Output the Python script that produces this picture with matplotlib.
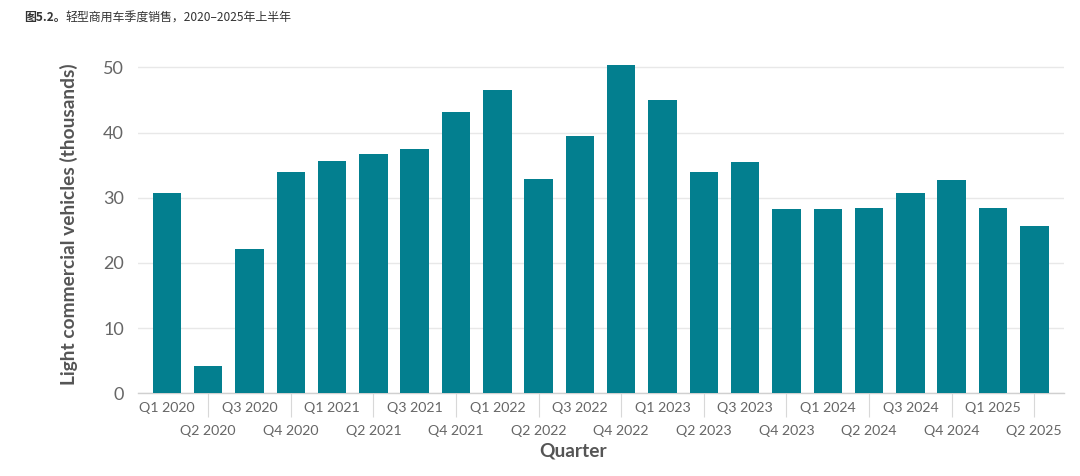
import matplotlib
matplotlib.use("Agg")
import matplotlib.pyplot as plt
import numpy as np

plt.rcParams['font.family'] = ['Lato', 'Noto Sans CJK SC', 'DejaVu Sans']

quarters = ["Q1 2020", "Q2 2020", "Q3 2020", "Q4 2020",
            "Q1 2021", "Q2 2021", "Q3 2021", "Q4 2021",
            "Q1 2022", "Q2 2022", "Q3 2022", "Q4 2022",
            "Q1 2023", "Q2 2023", "Q3 2023", "Q4 2023",
            "Q1 2024", "Q2 2024", "Q3 2024", "Q4 2024",
            "Q1 2025", "Q2 2025"]
sales = [30.8, 4.2, 22.2, 33.9,
         35.7, 36.7, 37.5, 43.1,
         46.6, 32.8, 39.5, 50.3,
         45.0, 34.0, 35.5, 28.2,
         28.3, 28.5, 30.7, 32.7,
         28.4, 25.7]
yticks = [0, 10, 20, 30, 40, 50]

title_bold = "图5.2。"
title_rest = "轻型商用车季度销售，2020–2025年上半年"
ylabel = "Light commercial vehicles (thousands)"
xlabel = "Quarter"

fig = plt.figure(figsize=(10.8, 4.76), dpi=100)
ax = fig.add_axes([138/1080, 1 - 393.3/476, (1064-138)/1080, 339/476])

x = np.arange(len(quarters))
ax.bar(x, sales, width=0.69, color="#037f8f", zorder=3)

ax.set_xlim(-0.7, len(quarters) - 1 + 0.72)
ax.set_ylim(0, 52)
ax.set_yticks(yticks)
ax.set_yticklabels([str(v) for v in yticks])
ax.grid(axis='y', color='#e8e8e8', linewidth=1, zorder=0)

for s in ['top', 'right', 'left']:
    ax.spines[s].set_visible(False)
ax.spines['bottom'].set_color('#d0d0d0')
ax.spines['bottom'].set_linewidth(1)

ax.tick_params(axis='y', length=0, pad=10, labelsize=13, labelcolor='#666666')

# two-row x labels
ax.set_xticks(x[0::2])
ax.set_xticklabels(quarters[0::2])
ax.set_xticks(x[1::2], minor=True)
ax.set_xticklabels(quarters[1::2], minor=True)
ax.tick_params(axis='x', which='major', length=0, pad=6, labelsize=10.2, labelcolor='#666666')
ax.tick_params(axis='x', which='minor', length=17, width=0.8, color='#d8d8d8',
               pad=6, labelsize=10.2, labelcolor='#666666')

ax.set_ylabel(ylabel, fontsize=13.8, fontweight='bold', color='#555555', labelpad=18)
fig.text(573/1080, 1 - 451/476, xlabel, fontsize=13.8, fontweight='bold',
         color='#555555', ha='center', va='center')

cjk = ['Noto Sans CJK SC', 'DejaVu Sans']
fig.text(24/1080, 1 - 18/476, title_bold, fontsize=8.6, fontweight='bold',
         color='#333333', ha='left', va='center', family=cjk)
t = fig.text(0, 0, title_bold, fontsize=8.6, fontweight='bold', family=cjk)
fig.canvas.draw()
w = t.get_window_extent().width
t.remove()
fig.text((24 + w) / 1080, 1 - 18/476, title_rest, fontsize=8.6,
         color='#333333', ha='left', va='center', family=cjk)

fig.savefig("out.png", dpi=100, facecolor='white')
